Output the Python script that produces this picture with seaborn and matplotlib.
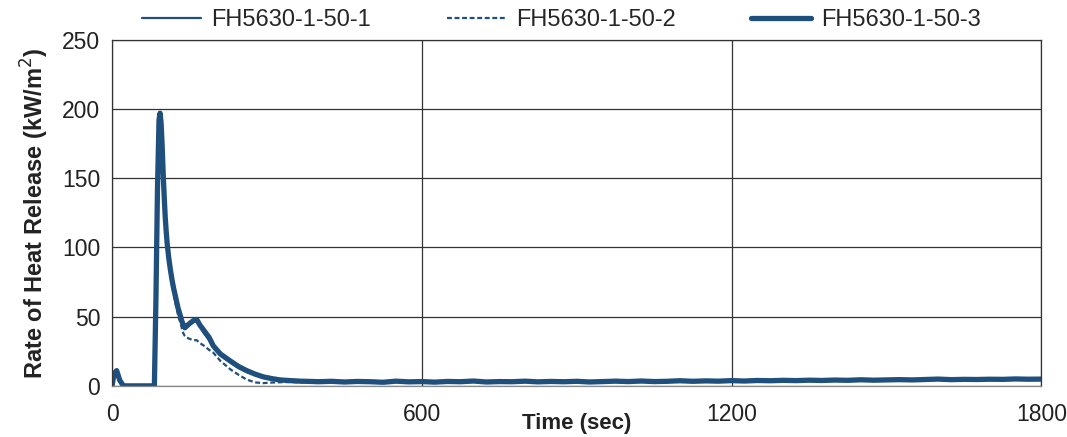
import matplotlib
matplotlib.use("Agg")
import matplotlib.pyplot as plt
import seaborn as sns
import pandas as pd

# ---------------- data ----------------
time_s = [0, 4, 9, 15, 22, 30, 50, 70, 82, 85, 88, 91, 93, 95, 97, 99, 101,
          103, 105, 107, 110, 113, 116, 119, 122, 125, 128, 132, 135, 138, 141,
          144, 150, 157, 164, 170, 178, 188, 196, 210,
          229, 245, 261, 277, 293, 310, 325, 345, 365, 385, 400,
          425, 450, 475, 500, 525, 550, 575, 600, 625, 650, 675, 700, 725, 750,
          775, 800, 825, 850, 875, 900, 925, 950, 975, 1000, 1025, 1050, 1075,
          1100, 1125, 1150, 1175, 1200, 1225, 1250, 1275, 1300, 1325, 1350,
          1375, 1400, 1425, 1450, 1475, 1500, 1525, 1550, 1575, 1600, 1625,
          1650, 1675, 1700, 1725, 1750, 1775, 1800]

hrr_1 = [0, 8, 10, 3, 0, 0, 0, 0, 0, 60, 140, 190, 196, 188, 172, 152, 135,
         120, 109, 100, 90, 82, 75, 69, 64, 59, 55, 50, 46, 43, 41,
         42, 44, 46, 47, 43, 38, 33, 28, 22,
         17, 13, 10, 8, 6, 5, 4, 3.5, 3.2, 3.0, 2.8,
         3.2, 2.6, 3.1, 2.9, 2.4, 3.3, 2.7, 3.0, 2.5, 3.1, 2.8, 3.4, 2.6, 3.0,
         2.9, 3.3, 2.7, 3.1, 2.8, 3.2, 2.6, 3.0, 3.3, 2.9, 3.4, 3.0, 3.2,
         3.6, 3.1, 3.5, 3.3, 3.7, 3.4, 3.8, 3.5, 3.9, 3.6, 4.0,
         3.7, 4.1, 3.8, 4.3, 4.0, 4.2, 4.4, 4.1, 4.5, 4.8, 4.3,
         4.6, 4.4, 4.7, 4.5, 4.9, 4.6, 4.8]

hrr_2 = [0, 7, 9, 3, 0, 0, 0, 0, 0, 58, 138, 188, 194, 186, 170, 150, 133,
         118, 107, 98, 88, 80, 73, 67, 61, 56, 51, 46, 42, 38, 36,
         35, 34, 33, 33, 31, 29, 26, 24, 18,
         12, 8, 4.5, 2.5, 2.0, 2.4, 2.6, 2.8, 2.5, 2.9, 2.7,
         2.9, 2.5, 3.0, 2.7, 2.6, 3.1, 2.6, 2.9, 2.7, 3.0, 2.6, 3.2, 2.8, 2.9,
         3.0, 3.1, 2.6, 3.0, 2.9, 3.1, 2.7, 2.9, 3.2, 3.0, 3.2, 2.9, 3.3,
         3.4, 3.2, 3.4, 3.2, 3.6, 3.3, 3.7, 3.6, 3.8, 3.5, 3.9,
         3.8, 4.0, 3.9, 4.1, 4.1, 4.0, 4.3, 4.2, 4.4, 4.6, 4.4,
         4.5, 4.5, 4.6, 4.6, 4.7, 4.7, 4.7]

hrr_3 = [0, 9, 11, 4, 0, 0, 0, 0, 0, 62, 142, 192, 197, 190, 174, 154, 137,
         122, 111, 102, 92, 84, 77, 71, 66, 61, 56, 51, 47, 44, 42,
         43, 45, 47, 48, 44, 40, 35, 29, 23,
         18, 14, 11, 8.5, 6.5, 5.2, 4.3, 3.8, 3.4, 3.2, 3.0,
         3.3, 2.8, 3.2, 3.0, 2.6, 3.4, 2.9, 3.1, 2.7, 3.2, 3.0, 3.5, 2.8, 3.1,
         3.0, 3.4, 2.9, 3.2, 3.0, 3.3, 2.8, 3.1, 3.4, 3.1, 3.5, 3.1, 3.3,
         3.7, 3.3, 3.6, 3.4, 3.8, 3.5, 3.9, 3.7, 4.0, 3.8, 4.1,
         3.9, 4.2, 4.0, 4.4, 4.1, 4.3, 4.5, 4.3, 4.6, 4.9, 4.5,
         4.7, 4.6, 4.8, 4.7, 5.0, 4.8, 4.9]

series_names = ["FH5630-1-50-1", "FH5630-1-50-2", "FH5630-1-50-3"]
x_ticks = [0, 600, 1200, 1800]
y_ticks = [0, 50, 100, 150, 200, 250]

# ---------------- style ----------------
sns.set_style("white")
plt.rcParams["font.family"] = ["Liberation Sans", "DejaVu Sans"]

color = "#1f4f7d"

fig = plt.figure(figsize=(10.67, 4.37), dpi=100)
ax = fig.add_axes([0.105, 0.117, 0.871, 0.792])

df = pd.DataFrame({"time": time_s, "s1": hrr_1, "s2": hrr_2, "s3": hrr_3})

sns.lineplot(data=df, x="time", y="s1", ax=ax, color=color, linewidth=1.6,
             label=series_names[0])
sns.lineplot(data=df, x="time", y="s2", ax=ax, color=color, linewidth=1.6,
             linestyle=(0, (2.2, 1.2)), label=series_names[1])
sns.lineplot(data=df, x="time", y="s3", ax=ax, color=color, linewidth=3.8,
             label=series_names[2])

ax.set_xlim(0, 1800)
ax.set_ylim(0, 250)
ax.set_xticks(x_ticks)
ax.set_yticks(y_ticks)
ax.tick_params(axis="both", labelsize=16.5, colors="#222222", length=5,
               direction="out", width=0.8)
ax.tick_params(axis="x", pad=7)
ax.grid(True, color="#333333", linewidth=0.9)
ax.set_axisbelow(True)
for s in ax.spines.values():
    s.set_color("#333333")
    s.set_linewidth(0.9)
ax.spines["bottom"].set_color("#888888")

ax.set_xlabel("Time (sec)", fontsize=16, fontweight="bold", color="#222222",
              labelpad=-9)
ax.set_ylabel("Rate of Heat Release (kW/m$^2$)", fontsize=17,
              fontweight="bold", color="#222222", labelpad=8)

ax.get_legend().remove()
handles, labels = ax.get_legend_handles_labels()
fig.legend(handles, labels, loc="upper center", ncol=3, frameon=False,
           fontsize=17, bbox_to_anchor=(0.526, 1.028), handlelength=2.5,
           handletextpad=0.45, columnspacing=3.2)

fig.savefig("out.png", dpi=100)
